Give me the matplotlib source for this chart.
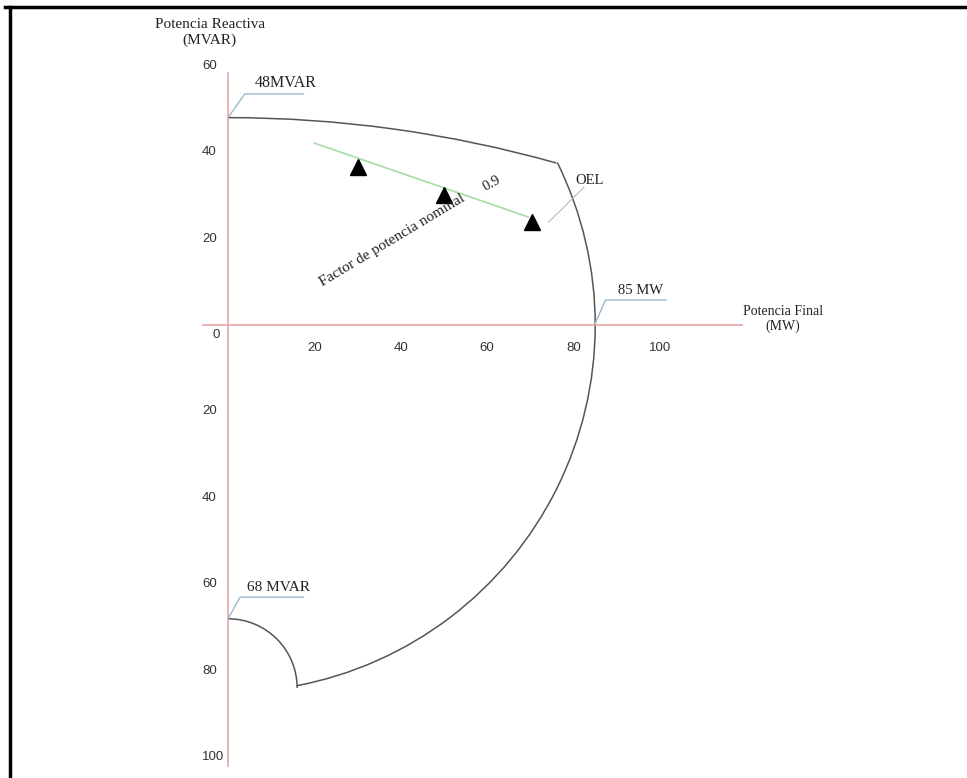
import numpy as np
import matplotlib.pyplot as plt
from matplotlib.patches import Arc
from matplotlib.lines import Line2D

# values (MW / MVAR)
q_max = 48          # over-excited limit at P = 0
q_min = 68          # under-excited limit at P = 0
p_max = 85          # armature current limit radius
oel_center = -232   # centre of the field-current (OEL) arc on the Q axis
oel_corner = (76, 37.5)
uel_corner = (16, -84)
pf_line_p = [20, 69.5]
pf_line_q = [42.1, 25.0]
op_p = [30, 50, 70.4]
op_q = [36.6, 30.0, 23.8]
x_ticks = [20, 40, 60, 80, 100]
y_ticks = [60, 40, 20, -20, -40, -60, -80, -100]

serif = ['Liberation Serif', 'DejaVu Serif']
sans = ['Liberation Sans', 'DejaVu Sans']
curve_col = '#555555'
axis_col = '#eaa6a6'
lead_col = '#9ab8cc'
text_col = '#222222'

fig = plt.figure(figsize=(9.67, 7.78), dpi=100)
ax = fig.add_axes([0, 0, 1, 1])
ax.set_xlim(-52.78, 171.06)
ax.set_ylim(-104.86, 75.23)
ax.axis('off')

# axes lines
ax.plot([-5.8, 119], [0, 0], color=axis_col, lw=1.2)
ax.plot([0, 0], [58.3, -102], color=axis_col, lw=1.2)

# capability curve
theta_oel = np.degrees(np.arctan2(oel_corner[1] - oel_center, oel_corner[0]))
r_oel = q_max - oel_center
ax.add_patch(Arc((0, oel_center), 2 * r_oel, 2 * r_oel, theta1=theta_oel, theta2=90,
                 color=curve_col, lw=1.1))
theta_top = np.degrees(np.arctan2(oel_corner[1], oel_corner[0]))
theta_bot = np.degrees(np.arctan2(uel_corner[1], uel_corner[0]))
ax.add_patch(Arc((0, 0), 2 * p_max, 2 * p_max, theta1=theta_bot, theta2=theta_top,
                 color=curve_col, lw=1.1))
r_uel = uel_corner[1] + q_min
ax.add_patch(Arc((0, uel_corner[1]), -2 * r_uel, -2 * r_uel, theta1=0, theta2=90,
                 color=curve_col, lw=1.1))

# power factor line and operating points
ax.plot(pf_line_p, pf_line_q, color='#a6dca6', lw=1.2)
ax.plot(op_p, op_q, ls='none', marker='^', ms=11, color='black')

# tick labels
for p in x_ticks:
    ax.text(p, -5.3, str(p), ha='center', va='center', fontsize=9.5,
            family=sans, color='#333333')
for q in y_ticks:
    ax.text(-6.0, q, str(abs(q)), ha='left', va='center', fontsize=9.5,
            family=sans, color='#333333')
ax.text(-3.6, -2.3, '0', ha='left', va='center', fontsize=9.5, family=sans, color='#333333')

# axis titles
ax.text(-4.2, 67.7, 'Potencia Reactiva\n(MVAR)', ha='center', va='center', fontsize=11,
        family=serif, color=text_col, linespacing=1.3)
ax.text(128.5, 1.5, 'Potencia Final\n(MW)', ha='center', va='center', fontsize=10,
        family=serif, color=text_col, linespacing=1.15)

# callouts
ax.plot([0, 3.9, 17.5], [q_max, 53.5, 53.5], color=lead_col, lw=1)
ax.text(6.2, 56.0, '48MVAR', fontsize=11.5, family=serif, color=text_col, va='center')
ax.plot([0, 2.8, 17.5], [-q_min, -63.0, -63.0], color=lead_col, lw=1)
ax.text(4.4, -60.8, '68 MVAR', fontsize=11, family=serif, color=text_col, va='center')
ax.plot([p_max, 87.4, 101.4], [0.4, 5.8, 5.8], color=lead_col, lw=1)
ax.plot([74.2, 82.4], [23.8, 31.9], color='#bfbfbf', lw=0.9)
ax.text(90.3, 8.0, '85 MW', fontsize=10.5, family=serif, color=text_col, va='center')
ax.text(80.4, 33.5, 'OEL', fontsize=10.5, family=serif, color=text_col, va='center')

ax.text(38.0, 19.6, 'Factor de potencia nominal', rotation=31, fontsize=11,
        family=serif, color=text_col, ha='center', va='center', rotation_mode='anchor')
ax.text(61.0, 32.8, '0.9', rotation=29, fontsize=10.5, family=serif, color=text_col,
        ha='center', va='center', rotation_mode='anchor')

# page frame (top and left)
fig.add_artist(Line2D([5, 967], [771, 771], transform=None, color='black', lw=2.5))
fig.add_artist(Line2D([10, 10], [0, 771], transform=None, color='black', lw=2.5))

fig.savefig('out.png', dpi=100)
